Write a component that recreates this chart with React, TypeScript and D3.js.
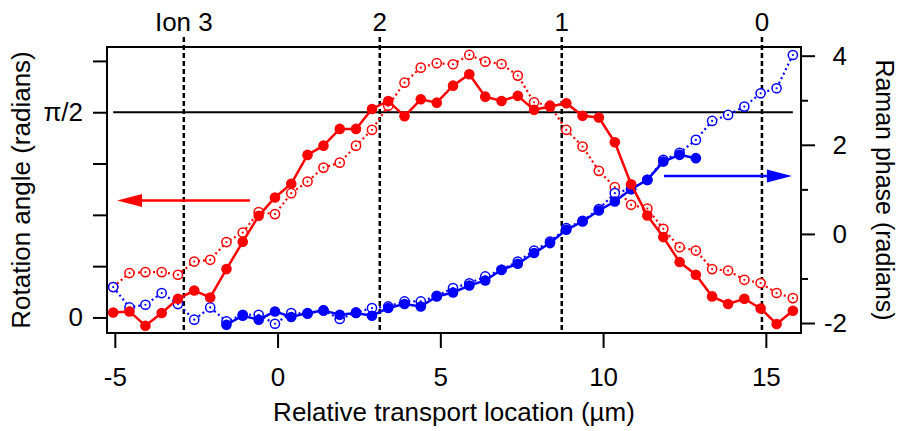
import React, { useEffect, useRef } from "react";
import * as d3 from "d3";

// transport positions (µm), shared by all four series
const positions = [
  -5.05, -4.55, -4.06, -3.56, -3.06, -2.56, -2.07, -1.57, -1.07, -0.58, -0.08,
  0.42, 0.92, 1.41, 1.91, 2.41, 2.9, 3.4, 3.9, 4.4, 4.89, 5.39, 5.89, 6.38, 6.88,
  7.38, 7.88, 8.37, 8.87, 9.37, 9.87, 10.36, 10.86, 11.36, 11.85, 12.35, 12.85,
  13.35, 13.84, 14.34, 14.84, 15.33, 15.83,
];

// rotation angle (radians), left axis
const rotationFilled = [
  0.038, 0.046, -0.063, 0.034, 0.143, 0.206, 0.153, 0.37, 0.579, 0.778, 0.918,
  1.023, 1.244, 1.315, 1.443, 1.443, 1.596, 1.657, 1.54, 1.67, 1.644, 1.774,
  1.862, 1.69, 1.657, 1.696, 1.589, 1.614, 1.64, 1.543, 1.53, 1.341, 1.02, 0.78,
  0.615, 0.424, 0.327, 0.161, 0.103, 0.143, 0.069, -0.05, 0.051,
];
const rotationOpen = [
  0.233, 0.34, 0.347, 0.347, 0.327, 0.428, 0.441, 0.577, 0.65, 0.806, 0.791,
  0.951, 1.04, 1.147, 1.185, 1.315, 1.436, 1.621, 1.797, 1.912, 1.946, 1.938,
  2.009, 1.958, 1.94, 1.851, 1.647, 1.621, 1.436, 1.308, 1.122, 0.997, 0.862,
  0.834, 0.678, 0.538, 0.512, 0.37, 0.359, 0.288, 0.263, 0.187, 0.148,
];

// Raman phase (radians), right axis
const phaseOpen = [
  -1.193, -1.65, -1.59, -1.327, -1.574, -1.926, -1.65, -1.964, -1.814, -1.814,
  -2.016, -1.776, -1.791, -1.717, -1.91, -1.762, -1.664, -1.628, -1.516, -1.516,
  -1.388, -1.215, -1.108, -0.955, -0.805, -0.619, -0.372, -0.17, 0.13, 0.294,
  0.556, 0.915, 1.011, 1.213, 1.661, 1.818, 2.11, 2.536, 2.67, 2.857, 3.157,
  3.269, 4.016,
];
const phaseFilledStart = 7;
const phaseFilled = [
  -2.038, -1.836, -1.926, -1.74, -1.865, -1.776, -1.717, -1.814, -1.776, -1.836,
  -1.664, -1.574, -1.628, -1.404, -1.314, -1.159, -1.045, -0.805, -0.67, -0.43,
  -0.206, 0.092, 0.278, 0.525, 0.726, 1.004, 1.213, 1.623, 1.774, 1.7,
];

const ionPositions = [-2.88, 3.14, 8.73, 14.88];
const ionLabels = ["Ion 3", "2", "1", "0"];

const xTicks = [-5, 0, 5, 10, 15];
const leftTicks = [0, Math.PI / 8, Math.PI / 4, (3 * Math.PI) / 8, Math.PI / 2, (5 * Math.PI) / 8];
const rightMajorTicks = [-2, 0, 2, 4];
const rightMinorTicks = [-1, 1, 3];

const RED = "#ff0000";
const BLUE = "#0000ff";
const FONT = "'Liberation Sans', Arial, Helvetica, sans-serif";

const width = 902;
const height = 431;
const margin = { left: 107, right: 101, top: 47, bottom: 98 };

const App = () => {
  const ref = useRef<SVGSVGElement>(null);

  useEffect(() => {
    const svg = d3.select(ref.current);
    svg.selectAll("*").remove();

    const x0 = margin.left;
    const x1 = width - margin.right;
    const y0 = height - margin.bottom;
    const y1 = margin.top;

    const x = d3.scaleLinear().domain([-5.24, 16.08]).range([x0, x1]);
    const yL = d3.scaleLinear().domain([-0.119, 2.07]).range([y0, y1]);
    const yR = d3.scaleLinear().domain([-2.224, 4.195]).range([y0, y1]);

    // pi/2 reference line
    svg
      .append("line")
      .attr("x1", x(positions[0]))
      .attr("x2", x(positions[positions.length - 1]))
      .attr("y1", yL(Math.PI / 2))
      .attr("y2", yL(Math.PI / 2))
      .attr("stroke", "black")
      .attr("stroke-width", 2);

    // ion positions
    const ions = svg.append("g");
    ions
      .selectAll("line")
      .data(ionPositions)
      .join("line")
      .attr("x1", (d) => x(d))
      .attr("x2", (d) => x(d))
      .attr("y1", 37)
      .attr("y2", y0 - 2)
      .attr("stroke", "black")
      .attr("stroke-width", 2.5)
      .attr("stroke-dasharray", "5,3");
    ions
      .selectAll("text")
      .data(ionPositions)
      .join("text")
      .attr("x", (d) => x(d))
      .attr("y", 31)
      .attr("text-anchor", "middle")
      .style("font-family", FONT)
      .style("font-size", "26px")
      .text((d, i) => ionLabels[i]);

    const idx = d3.range(positions.length);

    const drawOpen = (vals: number[], yScale: any, color: string) => {
      const line = d3
        .line<number>()
        .x((i) => x(positions[i]))
        .y((i) => yScale(vals[i]));
      svg
        .append("path")
        .attr("d", line(idx))
        .attr("fill", "none")
        .attr("stroke", color)
        .attr("stroke-width", 2.2)
        .attr("stroke-dasharray", "2,3");
      const g = svg.append("g");
      g.selectAll("circle.ring")
        .data(idx)
        .join("circle")
        .attr("cx", (i) => x(positions[i]))
        .attr("cy", (i) => yScale(vals[i]))
        .attr("r", 4.6)
        .attr("fill", "white")
        .attr("stroke", color)
        .attr("stroke-width", 1.5);
      g.selectAll("circle.dot")
        .data(idx)
        .enter()
        .append("circle")
        .attr("cx", (i) => x(positions[i]))
        .attr("cy", (i) => yScale(vals[i]))
        .attr("r", 1.1)
        .attr("fill", color);
    };

    const drawFilled = (vals: number[], start: number, yScale: any, color: string) => {
      const pts = vals.map((v, k) => [x(positions[start + k]), yScale(v)] as [number, number]);
      svg
        .append("path")
        .attr("d", d3.line()(pts))
        .attr("fill", "none")
        .attr("stroke", color)
        .attr("stroke-width", 2.5);
      svg
        .append("g")
        .selectAll("circle")
        .data(pts)
        .join("circle")
        .attr("cx", (d) => d[0])
        .attr("cy", (d) => d[1])
        .attr("r", 5.3)
        .attr("fill", color);
    };

    drawOpen(rotationOpen, yL, RED);
    drawOpen(phaseOpen, yR, BLUE);
    drawFilled(phaseFilled, phaseFilledStart, yR, BLUE);
    drawFilled(rotationFilled, 0, yL, RED);

    // arrows
    const arrow = (xa: number, xb: number, yy: number, color: string) => {
      const dir = xb > xa ? 1 : -1;
      svg
        .append("line")
        .attr("x1", x(xa))
        .attr("x2", x(xb) - dir * 20)
        .attr("y1", yy)
        .attr("y2", yy)
        .attr("stroke", color)
        .attr("stroke-width", 2.5);
      const tip = x(xb);
      svg
        .append("path")
        .attr("d", `M${tip},${yy}L${tip - dir * 25},${yy - 6.5}L${tip - dir * 25},${yy + 6.5}Z`)
        .attr("fill", color);
    };
    arrow(-0.85, -4.93, yL(0.895), RED);
    arrow(11.87, 15.8, yR(1.3), BLUE);

    // frame
    svg
      .append("rect")
      .attr("x", x0)
      .attr("y", y1)
      .attr("width", x1 - x0)
      .attr("height", y0 - y1)
      .attr("fill", "none")
      .attr("stroke", "black")
      .attr("stroke-width", 2);

    const styleAxis = (g: any) => {
      g.select(".domain").remove();
      g.selectAll("line").attr("stroke", "black").attr("stroke-width", 2);
      g.selectAll("text")
        .attr("fill", "black")
        .style("font-family", FONT)
        .style("font-size", "26px");
    };

    const plain = (d: any) => String(d);

    svg
      .append("g")
      .attr("transform", `translate(0,${y0})`)
      .call(d3.axisBottom(x).tickValues(xTicks).tickSize(15).tickSizeOuter(0).tickPadding(20).tickFormat(plain))
      .call(styleAxis);

    svg
      .append("g")
      .attr("transform", `translate(${x0},0)`)
      .call(
        d3
          .axisLeft(yL)
          .tickValues(leftTicks)
          .tickSize(14)
          .tickSizeOuter(0)
          .tickPadding(10)
          .tickFormat((d: any) => (d === 0 ? "0" : Math.abs(d - Math.PI / 2) < 1e-9 ? "π/2" : ""))
      )
      .call(styleAxis);

    const right = svg
      .append("g")
      .attr("transform", `translate(${x1},0)`)
      .call(d3.axisRight(yR).tickValues(rightMajorTicks).tickSize(14).tickSizeOuter(0).tickFormat(plain))
      .call(styleAxis);
    right.selectAll("text").attr("text-anchor", "end").attr("x", 46);
    svg
      .append("g")
      .attr("transform", `translate(${x1},0)`)
      .call(d3.axisRight(yR).tickValues(rightMinorTicks).tickSize(7).tickSizeOuter(0).tickFormat(() => ""))
      .call(styleAxis);

    // axis titles
    svg
      .append("text")
      .attr("x", (x0 + x1) / 2)
      .attr("y", 421)
      .attr("text-anchor", "middle")
      .style("font-family", FONT)
      .style("font-size", "26px")
      .text("Relative transport location (µm)");
    svg
      .append("text")
      .attr("transform", `translate(30,${(y0 + y1) / 2}) rotate(-90)`)
      .attr("text-anchor", "middle")
      .style("font-family", FONT)
      .style("font-size", "26px")
      .text("Rotation angle (radians)");
    svg
      .append("text")
      .attr("transform", `translate(876,${(y0 + y1) / 2}) rotate(90)`)
      .attr("text-anchor", "middle")
      .style("font-family", FONT)
      .style("font-size", "25px")
      .text("Raman phase (radians)");
  }, []);

  return (
    <svg
      ref={ref}
      width={width}
      height={height}
      style={{ position: "absolute", left: 0, top: 0, background: "white" }}
    />
  );
};

export default App;
